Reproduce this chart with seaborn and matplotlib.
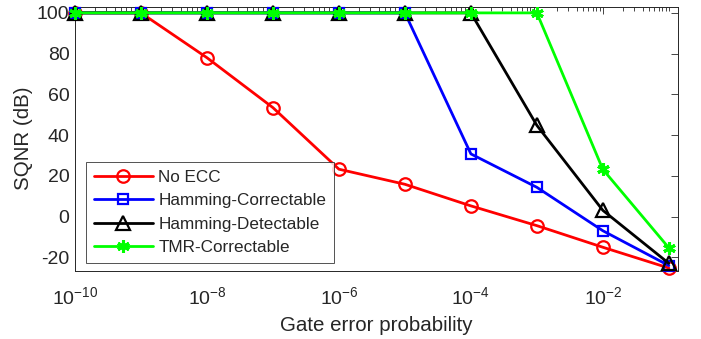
"""SQNR vs gate error probability for different ECC schemes"""

import numpy as np
import pandas as pd
import matplotlib
matplotlib.use('Agg')
import matplotlib.pyplot as plt
import matplotlib.ticker as mticker
import seaborn as sns

# data
error_prob = [1e-10, 1e-9, 1e-8, 1e-7, 1e-6, 1e-5, 1e-4, 1e-3, 1e-2, 1e-1]
no_ecc = [100, 100, 78, 53.5, 23.3, 15.9, 5.3, -4.4, -15, -25.2]
hamming_corr = [100, 100, 100, 100, 100, 100, 30.8, 14.4, -6.9, -24]
hamming_det = [100, 100, 100, 100, 100, 100, 100, 44.8, 3.1, -22.9]
tmr_corr = [100, 100, 100, 100, 100, 100, 100, 100, 23.2, -15.3]

series_names = ['No ECC', 'Hamming-Correctable', 'Hamming-Detectable', 'TMR-Correctable']
series_values = [no_ecc, hamming_corr, hamming_det, tmr_corr]

df = pd.DataFrame({
    'p': error_prob * len(series_names),
    'sqnr': sum(series_values, []),
    'scheme': sum([[n] * len(error_prob) for n in series_names], []),
})

sns.set_style('white')
plt.rcParams['font.family'] = ['Liberation Sans', 'DejaVu Sans']
plt.rcParams['mathtext.fontset'] = 'custom'
plt.rcParams['mathtext.rm'] = 'Liberation Sans'
plt.rcParams['axes.unicode_minus'] = False

styles = {
    'No ECC': dict(color='#ff0000', marker='o', mfc='none', ms=9, mew=1.6),
    'Hamming-Correctable': dict(color='#0000ff', marker='s', mfc='none', ms=7, mew=1.6),
    'Hamming-Detectable': dict(color='#000000', marker='^', mfc='none', ms=10, mew=1.6),
    'TMR-Correctable': dict(color='#00ff00', marker=(6, 2, 0), mfc='#00ff00', ms=9, mew=2.2),
}

fig = plt.figure(figsize=(7.01, 3.39), dpi=100)
ax = fig.add_axes([0.107, 0.2015, 0.86, 0.7785])

for name in series_names:
    st = styles[name]
    sns.lineplot(data=df[df['scheme'] == name], x='p', y='sqnr', ax=ax,
                 label=name, color=st['color'], marker=st['marker'],
                 markerfacecolor=st['mfc'], markeredgecolor=st['color'],
                 markersize=st['ms'], markeredgewidth=st['mew'],
                 linewidth=2, clip_on=False, zorder=3)

ax.set_xscale('log')
ax.set_xlim(1e-10, 0.137)
ax.set_ylim(-26.5, 103)
ax.xaxis.set_major_locator(mticker.FixedLocator([1e-10, 1e-8, 1e-6, 1e-4, 1e-2]))
ax.xaxis.set_minor_locator(mticker.LogLocator(base=10, subs=np.arange(1, 10), numticks=30))
ax.xaxis.set_major_formatter(mticker.LogFormatterMathtext())
ax.xaxis.set_minor_formatter(mticker.NullFormatter())
ax.set_yticks([-20, 0, 20, 40, 60, 80, 100])

ax.tick_params(which='both', direction='in', top=True, right=True,
               labelsize=14, colors='#262626', width=0.6)
ax.tick_params(which='major', length=5)
ax.tick_params(which='minor', length=3)
ax.tick_params(axis='x', pad=11)
ax.tick_params(axis='y', pad=4)
for sp in ax.spines.values():
    sp.set_color('#262626')
    sp.set_linewidth(0.7)

ax.set_xlabel('Gate error probability', fontsize=14.8, color='#262626', labelpad=6)
ax.set_ylabel('SQNR (dB)', fontsize=14.8, color='#262626', labelpad=3)

leg = ax.legend(loc='lower left', bbox_to_anchor=(0.018, 0.029), borderaxespad=0,
                fontsize=12.3, frameon=True, fancybox=False,
                edgecolor='#262626', borderpad=0.45, labelspacing=0.5,
                handlelength=3.5, handletextpad=0.3)
leg.get_frame().set_linewidth(0.7)

fig.savefig('out.png', dpi=100)
